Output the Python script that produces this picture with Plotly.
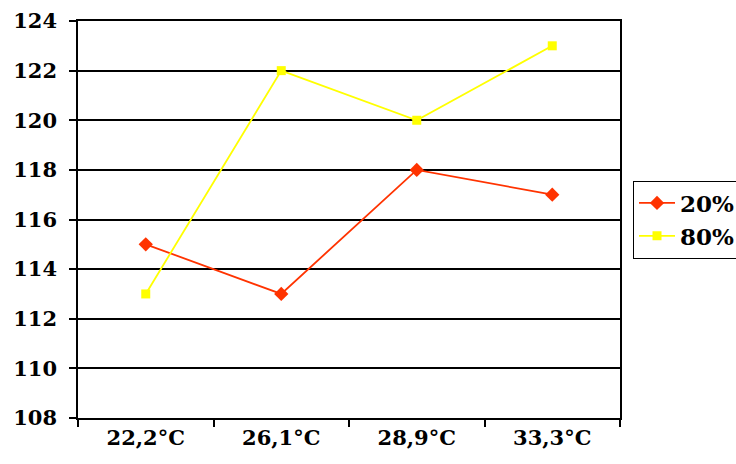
import plotly.graph_objects as go

categories = ["22,2°C", "26,1°C", "28,9°C", "33,3°C"]
series_20 = [115, 113, 118, 117]
series_80 = [113, 122, 120, 123]
y_ticks = [108, 110, 112, 114, 116, 118, 120, 122, 124]

serif = "'DejaVu Serif', serif"

fig = go.Figure()
fig.add_trace(go.Scatter(
    x=categories, y=series_20, name="<b>20%</b>", mode="lines+markers",
    line=dict(color="#FF3300", width=1.8),
    marker=dict(symbol="diamond", size=11, color="#FF3300"),
))
fig.add_trace(go.Scatter(
    x=categories, y=series_80, name="<b>80%</b>", mode="lines+markers",
    line=dict(color="#FFFF00", width=1.8),
    marker=dict(symbol="square", size=9, color="#FFFF00"),
))

fig.update_layout(
    width=736, height=464,
    margin=dict(l=78, r=116, t=21, b=46, autoexpand=False),
    paper_bgcolor="white", plot_bgcolor="white",
    font=dict(family=serif, size=20, color="black"),
    showlegend=True,
    legend=dict(
        x=1.024, y=0.5, xanchor="left", yanchor="middle",
        bordercolor="black", borderwidth=1, bgcolor="white",
        font=dict(family=serif, size=23, color="black"),
        itemwidth=36,
    ),
    xaxis=dict(
        type="category", tickson="boundaries", range=[-0.5, 3.5],
        tickvals=categories, ticktext=[f"<b>{c}</b>" for c in categories],
        showline=True, linecolor="black", linewidth=1.5, mirror=True,
        ticks="outside", ticklen=7, tickcolor="black", tickwidth=1.5,
        showgrid=False, zeroline=False,
        tickfont=dict(family=serif, size=21, color="black"),
    ),
    yaxis=dict(
        range=[108, 124], tickvals=y_ticks,
        ticktext=[f"<b>{v}</b>" for v in y_ticks],
        showline=True, linecolor="black", linewidth=1.5, mirror=True,
        ticks="outside", ticklen=7, tickcolor="black", tickwidth=1.5,
        ticklabelstandoff=8,
        showgrid=True, gridcolor="black", gridwidth=1.5, zeroline=False,
        tickfont=dict(family=serif, size=21, color="black"),
    ),
)

fig.write_html("out.html")
